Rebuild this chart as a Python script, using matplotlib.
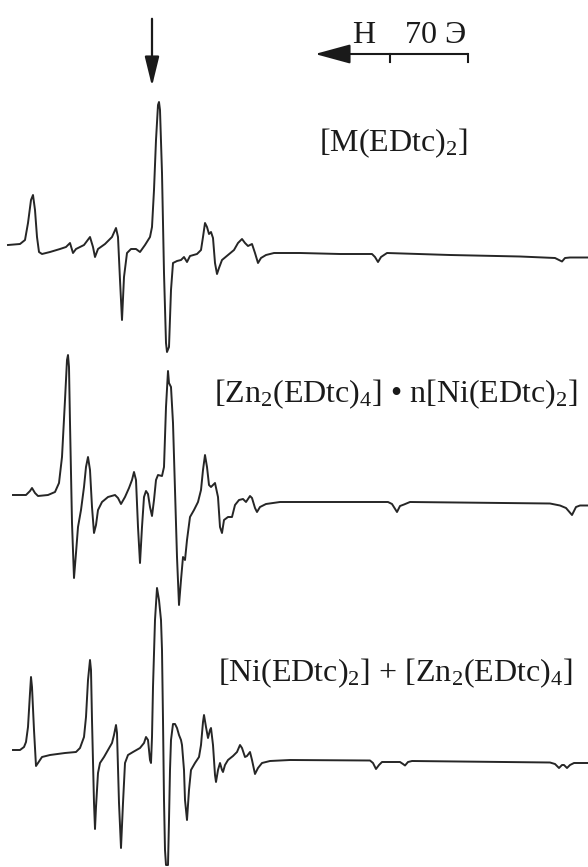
import numpy as np
import matplotlib
matplotlib.use('Agg')
import matplotlib.pyplot as plt

# traced spectra, x / y in picture pixels (y grows downward)
x1 = [8, 20, 25, 28, 31, 33, 35, 37, 39, 42, 50, 60, 66, 70, 73, 76, 84, 90, 93, 95, 98, 105,
      112, 116, 118, 120, 122, 124, 127, 131, 136, 140, 145, 150, 152, 154, 156, 158, 159, 160,
      162, 164, 166, 167, 169, 171, 173, 177, 181, 184, 187, 190, 197, 201, 203, 205, 207, 209,
      211, 213, 215, 217, 219, 222, 228, 234, 238, 242, 245, 248, 252, 255, 258, 261, 266, 274,
      300, 340, 372, 375, 378, 381, 387, 450, 520, 555, 559, 562, 565, 570, 588]
y1 = [245, 244, 240, 223, 200, 195, 210, 237, 252, 254, 252, 249, 247, 243, 253, 249, 245, 237,
      247, 257, 249, 244, 237, 228, 237, 280, 320, 277, 253, 249, 249, 252, 245, 237, 227, 190,
      140, 105, 102, 110, 173, 273, 343, 352, 347, 290, 263, 261, 260, 257, 262, 256, 254, 250,
      237, 223, 227, 234, 232, 238, 263, 274, 268, 260, 255, 250, 243, 239, 243, 246, 244, 253,
      263, 258, 255, 253, 253, 254, 254, 257, 262, 257, 253, 255, 256.5, 258, 260, 261.5, 258,
      257.5, 257.5]

x2 = [13, 26, 30, 32, 35, 38, 48, 55, 59, 62, 65, 67, 68, 69, 70, 72, 74, 76, 78, 81, 84, 86,
      88, 90, 92, 94, 96, 98, 102, 108, 115, 118, 121, 125, 129, 132, 134, 136, 138, 140, 142,
      144, 146, 148, 150, 152, 154, 156, 158, 162, 164, 166, 168, 169, 171, 173, 175, 177, 179,
      181, 183, 185, 187, 190, 194, 198, 201, 203, 205, 207, 209, 211, 215, 218, 220, 222, 224,
      228, 232, 235, 239, 243, 246, 250, 252, 255, 257, 260, 266, 280, 300, 388, 392, 397, 400,
      404, 410, 550, 560, 566, 572, 576, 580, 588]
y2 = [495, 495, 491, 488, 493, 496, 495, 492, 483, 457, 400, 360, 355, 367, 423, 523, 578, 553,
      527, 510, 487, 467, 457, 470, 507, 533, 525, 510, 502, 497, 495, 498, 504, 497, 488, 480,
      472, 480, 527, 563, 527, 497, 491, 494, 507, 516, 500, 480, 475, 476, 467, 407, 371, 383,
      387, 423, 490, 557, 605, 580, 557, 560, 540, 517, 510, 502, 490, 470, 455, 467, 485, 487,
      483, 497, 527, 533, 520, 517, 517, 505, 500, 499, 502, 496, 498, 508, 512, 507, 504, 502,
      502, 502, 504, 512, 506, 504.5, 502, 503.5, 505.5, 508, 515, 507, 505.5, 505.5]

x3 = [13, 20, 24, 26, 28, 30, 31, 32, 34, 36, 38, 42, 50, 65, 76, 80, 84, 86, 88, 90, 91, 92, 94,
      95, 96, 98, 100, 104, 108, 112, 114, 116, 117, 119, 121, 123, 125, 128, 133, 140, 144, 146,
      148, 150, 151, 152, 153, 155, 157, 159, 161, 162, 163, 164, 165, 166, 168, 169, 170, 171,
      173, 175, 177, 179, 181, 182, 184, 185, 187, 189, 191, 195, 199, 201, 203, 204, 206, 208,
      210, 211, 213, 215, 216, 218, 220, 222, 223, 225, 228, 233, 237, 240, 242, 245, 247, 250,
      252, 255, 258, 262, 270, 290, 370, 373, 376, 379, 382, 400, 403, 405, 408, 412, 550, 555,
      559, 562, 564, 567, 570, 574, 588]
y3 = [750, 750, 747, 742, 727, 693, 677, 687, 730, 766, 763, 757, 755, 753, 752, 748, 737, 717,
      680, 660, 670, 720, 803, 829, 807, 773, 763, 757, 750, 743, 735, 725, 733, 803, 848, 803,
      763, 755, 752, 748, 743, 737, 740, 760, 763, 737, 687, 620, 588, 600, 620, 650, 720, 800,
      850, 865, 865, 820, 770, 740, 724, 724, 728, 735, 740, 745, 770, 800, 820, 790, 770, 763,
      757, 745, 722, 715, 727, 738, 730, 728, 745, 775, 782, 770, 763, 770, 772, 765, 760, 756,
      752, 745, 748, 757, 756, 752, 760, 774, 768, 763, 761, 760, 760.5, 763, 769, 765, 762, 762,
      764, 765.5, 762, 761, 762.5, 764, 768, 765, 765, 768, 765, 763, 763]

labels = [r'[M(EDtc)$_2$]',
          r'[Zn$_2$(EDtc)$_4$] • n[Ni(EDtc)$_2$]',
          r'[Ni(EDtc)$_2$] + [Zn$_2$(EDtc)$_4$]']
label_x = [319, 214, 218]
label_y = [151, 402, 681]

plt.rcParams['font.family'] = ['Liberation Serif', 'DejaVu Serif']
plt.rcParams['mathtext.fontset'] = 'custom'
plt.rcParams['mathtext.rm'] = 'Liberation Serif'
plt.rcParams['mathtext.it'] = 'Liberation Serif'
plt.rcParams['mathtext.default'] = 'regular'

fig = plt.figure(figsize=(5.88, 8.67), dpi=100)
ax = fig.add_axes([0, 0, 1, 1])
ax.set_xlim(0, 588)
ax.set_ylim(867, 0)
ax.axis('off')

col = '#262626'
for xs, ys in [(x1, y1), (x2, y2), (x3, y3)]:
    ax.plot(xs, ys, color=col, lw=1.4, solid_joinstyle='round')

for t, lx, ly in zip(labels, label_x, label_y):
    ax.text(lx, ly, t, fontsize=23, ha='left', va='baseline', color='#1a1a1a')

# marker arrow above main line
ax.annotate('', xy=(152, 89), xytext=(152, 16),
            arrowprops=dict(arrowstyle='-|>,head_length=0.9,head_width=0.22',
                            lw=1.6, color='#1a1a1a', mutation_scale=20))

# field scale bar
ax.annotate('', xy=(315, 54), xytext=(468, 54),
            arrowprops=dict(arrowstyle='-|>,head_length=1.1,head_width=0.3',
                            lw=1.5, color='#1a1a1a', mutation_scale=20, shrinkA=0, shrinkB=0))
ax.plot([390, 390], [54, 62], color='#1a1a1a', lw=1.5)
ax.plot([468, 468], [54, 62], color='#1a1a1a', lw=1.5)
ax.text(364, 43, 'H', fontsize=23, ha='center', va='baseline', color='#1a1a1a')
ax.text(436, 43, '70 Э', fontsize=23, ha='center', va='baseline', color='#1a1a1a')

fig.savefig('out.png', dpi=100)
